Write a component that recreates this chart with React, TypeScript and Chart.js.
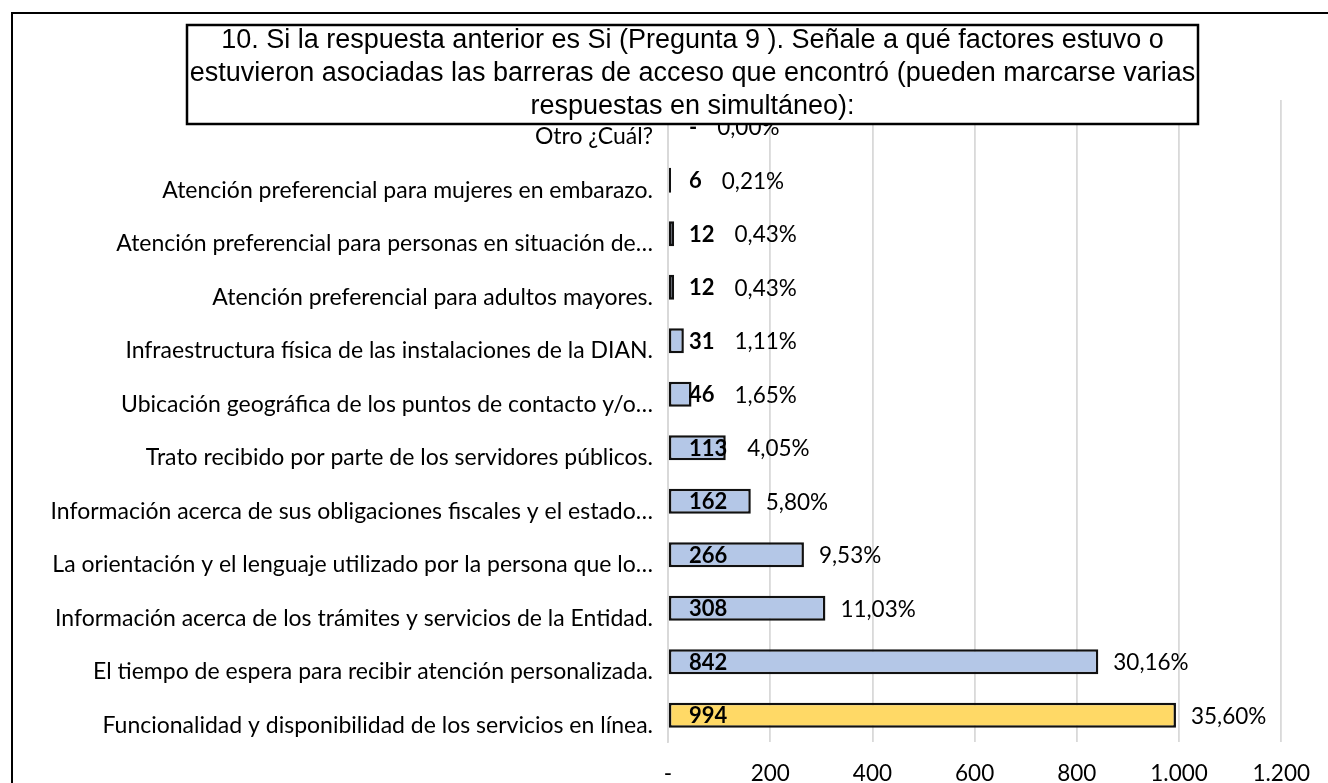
import React, { useEffect, useRef } from "react";
import { Chart, registerables } from "chart.js";

Chart.register(...registerables);

const categories = [
  "Otro ¿Cuál?",
  "Atención preferencial para mujeres en embarazo.",
  "Atención preferencial para personas en situación de…",
  "Atención preferencial para adultos mayores.",
  "Infraestructura física de las instalaciones de la DIAN.",
  "Ubicación geográfica de los puntos de contacto y/o…",
  "Trato recibido por parte de los servidores públicos.",
  "Información acerca de sus obligaciones fiscales y el estado…",
  "La orientación y el lenguaje utilizado por la persona que lo…",
  "Información acerca de los trámites y servicios de la Entidad.",
  "El tiempo de espera para recibir atención personalizada.",
  "Funcionalidad y disponibilidad de los servicios en línea.",
];

const values = [0, 6, 12, 12, 31, 46, 113, 162, 266, 308, 842, 994];

const percentLabels = [
  "0,00%", "0,21%", "0,43%", "0,43%", "1,11%", "1,65%",
  "4,05%", "5,80%", "9,53%", "11,03%", "30,16%", "35,60%",
];

const titleLines = [
  "10. Si la respuesta anterior es Si (Pregunta 9 ). Señale a qué factores estuvo o",
  "estuvieron asociadas las barreras de acceso que encontró (pueden marcarse varias",
  "respuestas en simultáneo):",
];

const xMin = 0;
const xMax = 1200;
const xStep = 200;

const BLUE = "#B4C7E7";
const GOLD = "#FFD966";
const barColors = values.map((_, i) => (i === values.length - 1 ? GOLD : BLUE));

const LABEL_FONT = "Lato";
const LABEL_SIZE = 23;
const TITLE_FONT = "'Liberation Sans', Arial, sans-serif";

function fmtNum(v: number): string {
  if (v === 0) return "-";
  return String(Math.round(v)).replace(/\B(?=(\d{3})+(?!\d))/g, ".");
}

const labelsPlugin = {
  id: "customLabels",
  afterDatasetsDraw(chart: any) {
    const ctx = chart.ctx;
    const meta = chart.getDatasetMeta(0);
    const xs = chart.scales.x;
    const zero = xs.getPixelForValue(0);
    ctx.save();
    ctx.textBaseline = "middle";
    meta.data.forEach((bar: any, i: number) => {
      const vLabel = fmtNum(values[i]);
      ctx.font = `bold 22px ${LABEL_FONT}`;
      ctx.fillStyle = "#000";
      ctx.textAlign = "left";
      const vx = zero + 21;
      const y = bar.y + 1;
      ctx.fillText(vLabel, vx, y);
      const vEnd = vx + ctx.measureText(vLabel).width;
      const px = Math.max(bar.x + 15, vEnd + 20);
      ctx.font = `22.5px ${LABEL_FONT}`;
      ctx.fillText(percentLabels[i], px, y);
    });
    ctx.restore();
  },
  afterDraw(chart: any) {
    const ctx = chart.ctx;
    ctx.save();
    // outer frame
    ctx.strokeStyle = "#000";
    ctx.lineWidth = 2;
    ctx.strokeRect(12, 13, 1400, 900);
    // title box
    ctx.fillStyle = "#fff";
    ctx.fillRect(187, 25, 1011, 99);
    ctx.lineWidth = 2.5;
    ctx.strokeRect(187, 25, 1011, 99);
    ctx.fillStyle = "#000";
    ctx.font = `27px ${TITLE_FONT}`;
    ctx.textAlign = "center";
    ctx.textBaseline = "middle";
    const cx = 187 + 1011 / 2;
    titleLines.forEach((line, i) => {
      ctx.fillText(line, cx, 41 + i * 33);
    });
    ctx.restore();
  },
};

export default function App() {
  const ref = useRef<HTMLCanvasElement | null>(null);
  useEffect(() => {
    if (!ref.current) return;
    const chart = new Chart(ref.current, {
      type: "bar",
      data: {
        labels: categories,
        datasets: [
          {
            data: values,
            backgroundColor: barColors,
            borderColor: "#111",
            borderWidth: 2.5,
            borderSkipped: false,
            barPercentage: 0.47,
            categoryPercentage: 1,
          },
        ],
      },
      options: {
        indexAxis: "y",
        animation: false,
        responsive: false,
        devicePixelRatio: 1,
        layout: { padding: { top: 100, right: 38, bottom: 0, left: 0 } },
        plugins: {
          legend: { display: false },
          tooltip: { enabled: false },
          title: { display: false },
        },
        scales: {
          x: {
            min: xMin,
            max: xMax,
            ticks: {
              stepSize: xStep,
              color: "#000",
              font: { family: LABEL_FONT, size: 22.5 },
              padding: 18,
              callback: (v: any) => fmtNum(Number(v)),
            },
            grid: { color: "#d9d9d9", lineWidth: 1.8, drawTicks: false },
            border: { display: false },
            afterFit: (s: any) => {
              s.height = 41;
            },
          },
          y: {
            ticks: {
              color: "#000",
              font: { family: LABEL_FONT, size: LABEL_SIZE },
              padding: 15,
              labelOffset: 10,
              autoSkip: false,
            },
            grid: { display: false, drawTicks: false },
            border: { display: true, color: "#d9d9d9", width: 1.8 },
            afterFit: (s: any) => {
              s.width = 668;
            },
          },
        },
      },
      plugins: [labelsPlugin],
    });
    return () => chart.destroy();
  }, []);
  return (
    <div style={{ position: "fixed", left: 0, top: 0, width: 1328, height: 783, background: "#fff" }}>
      <canvas ref={ref} width={1328} height={783} style={{ display: "block" }} />
    </div>
  );
}
